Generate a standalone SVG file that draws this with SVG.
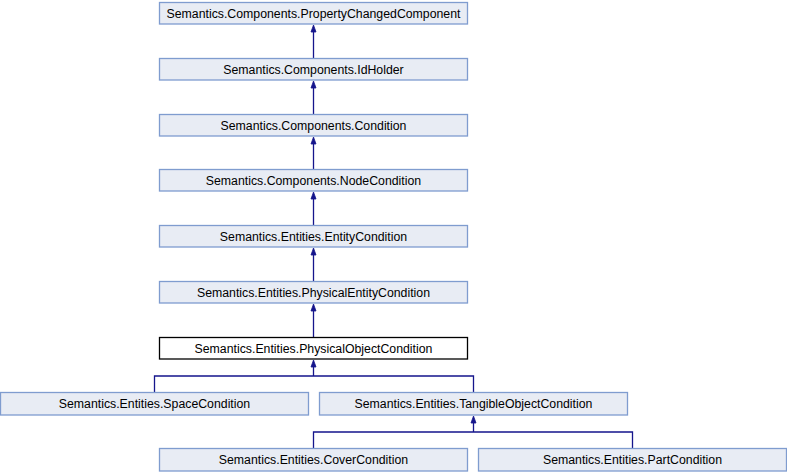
<svg xmlns="http://www.w3.org/2000/svg" width="787" height="472" viewBox="0 0 787 472">
<style>
.n rect{fill:#e8ecf4;stroke:#7f9ccf;stroke-width:1.3}
.n.cur rect{fill:#ffffff;stroke:#000000}
.n text{font-family:"Liberation Sans",Arial,sans-serif;font-size:12.3px;fill:#000;text-anchor:middle}
.e path{fill:none;stroke:#15158c;stroke-width:1.3}
.e polygon{fill:#15158c;stroke:#15158c;stroke-width:0.8}
</style>
<rect width="787" height="472" fill="#fff"/>
<g class="e" id="edges">
<path d="M313.5,31 V58"/><polygon points="313.5,25 311,32 316,32"/>
<path d="M313.5,87 V114"/><polygon points="313.5,81 311,88 316,88"/>
<path d="M313.5,143 V170"/><polygon points="313.5,137 311,144 316,144"/>
<path d="M313.5,198 V226"/><polygon points="313.5,192 311,199 316,199"/>
<path d="M313.5,254 V281"/><polygon points="313.5,248 311,255 316,255"/>
<path d="M313.5,310 V337"/><polygon points="313.5,304 311,311 316,311"/>
<path d="M313.5,366 V376 M154.5,392 V376 H473.5 V392"/><polygon points="313.5,360 311,367 316,367"/>
<path d="M473.5,422 V432 M313.5,448 V432 H632.5 V448"/><polygon points="473.5,416 471,423 476,423"/>
</g>
<g class="n" id="n1"><rect x="159.5" y="2.5" width="308" height="21.5"/><text x="313.5" y="17.5">Semantics.Components.PropertyChangedComponent</text></g>
<g class="n" id="n2"><rect x="159.5" y="58.5" width="308" height="21.5"/><text x="313.5" y="73.5">Semantics.Components.IdHolder</text></g>
<g class="n" id="n3"><rect x="159.5" y="114.5" width="308" height="21.5"/><text x="313.5" y="129.5">Semantics.Components.Condition</text></g>
<g class="n" id="n4"><rect x="159.5" y="169.5" width="308" height="21.5"/><text x="313.5" y="184.5">Semantics.Components.NodeCondition</text></g>
<g class="n" id="n5"><rect x="159.5" y="225.5" width="308" height="21.5"/><text x="313.5" y="240.5">Semantics.Entities.EntityCondition</text></g>
<g class="n" id="n6"><rect x="159.5" y="281.5" width="308" height="21.5"/><text x="313.5" y="296.5">Semantics.Entities.PhysicalEntityCondition</text></g>
<g class="n cur" id="n7"><rect x="159.5" y="337.5" width="308" height="21.5"/><text x="313.5" y="352.5">Semantics.Entities.PhysicalObjectCondition</text></g>
<g class="n" id="n8"><rect x="0.5" y="392.5" width="308" height="22.5"/><text x="154.5" y="408">Semantics.Entities.SpaceCondition</text></g>
<g class="n" id="n9"><rect x="319.5" y="392.5" width="308" height="22.5"/><text x="473.5" y="408">Semantics.Entities.TangibleObjectCondition</text></g>
<g class="n" id="n10"><rect x="159.5" y="448.5" width="308" height="22.5"/><text x="313.5" y="464">Semantics.Entities.CoverCondition</text></g>
<g class="n" id="n11"><rect x="478.5" y="448.5" width="308" height="22.5"/><text x="632.5" y="464">Semantics.Entities.PartCondition</text></g>
</svg>
